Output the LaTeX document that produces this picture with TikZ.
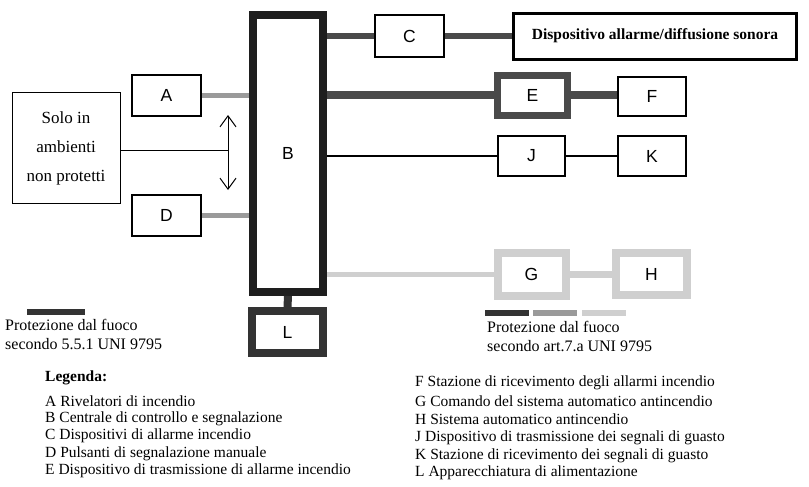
\documentclass[tikz,border=0pt]{standalone}
\usepackage{fontspec}
\setmainfont{Liberation Serif}
\newfontfamily\boxfont{Liberation Sans}
\usetikzlibrary{arrows.meta}
\definecolor{cB}{HTML}{1E1E1E}
\definecolor{cDark}{HTML}{4A4A4A}
\definecolor{cL}{HTML}{333333}
\definecolor{cMid}{HTML}{9A9A9A}
\definecolor{cLight}{HTML}{CFCFCF}
\tikzset{
  lbox/.style={draw=black, line width=2pt, fill=white, inner sep=0pt, font=\boxfont\fontsize{17.5}{20}\selectfont},
  fatbox/.style={draw=#1, line width=8pt, fill=white, inner sep=0pt, font=\boxfont\fontsize{17.5}{20}\selectfont},
  legtext/.style={anchor=west, inner sep=0pt, font=\fontsize{15.5}{17}\selectfont},
  prottext/.style={anchor=north west, inner sep=0pt, align=left, font=\fontsize{16}{19}\selectfont},
  conn/.style={line width=#1},
}
\begin{document}
\begin{tikzpicture}[x=1pt,y=-1pt]
\useasboundingbox (0,0) rectangle (809,487);
% boxes
\node[fatbox=cB, minimum width=70pt, minimum height=277pt] (B) at (288,153.5) {B};
\node[draw=black, line width=1pt, fill=white, minimum width=108pt, minimum height=110pt, inner sep=0pt, align=center, font=\fontsize{17}{20}\selectfont] (S) at (66,148) {Solo in\\[9pt]ambienti\\[9pt]non protetti};
\node[lbox, minimum width=69pt, minimum height=41pt] (A) at (166.5,95.5) {A};
\node[lbox, minimum width=69pt, minimum height=41pt] (D) at (166.5,215) {D};
\node[lbox, minimum width=69pt, minimum height=42pt] (C) at (409.5,36) {C};
\node[draw=black, line width=3pt, fill=white, minimum width=283pt, minimum height=46pt, inner sep=0pt, font=\bfseries\fontsize{15.5}{18}\selectfont] (P) at (655,36.5) {\raisebox{4pt}{Dispositivo allarme/diffusione sonora}};
\node[fatbox=cDark, line width=7pt, minimum width=70pt, minimum height=40pt] (E) at (532.5,95.5) {E};
\node[lbox, minimum width=68pt, minimum height=39pt] (F) at (652,96.5) {F};
\node[lbox, minimum width=67pt, minimum height=40pt] (J) at (531.5,156) {J};
\node[lbox, minimum width=68pt, minimum height=40pt] (K) at (652,156) {K};
\node[fatbox=cLight, minimum width=68pt, minimum height=43pt] (G) at (531.5,274.5) {G};
\node[fatbox=cLight, minimum width=71pt, minimum height=42pt] (H) at (651.5,274) {H};
\node[fatbox=cL, minimum width=71pt, minimum height=42pt] (L) at (287.5,332) {L};
% connectors
\draw[conn=5pt, cMid] (A.east) -- (A.east -| B.west);
\draw[conn=5pt, cMid] (D.east) -- (D.east -| B.west);
\draw[conn=6pt, cDark] (C.west -| B.east) -- (C.west);
\draw[conn=6pt, cDark] (C.east) -- (C.east -| P.west);
\draw[conn=8pt, cDark] (E.west -| B.east) -- (E.west);
\draw[conn=8pt, cDark] (E.east) -- (E.east -| F.west);
\draw[conn=1.3pt, black] (J.west -| B.east) -- (J.west);
\draw[conn=1.3pt, black] (J.east) -- (J.east -| K.west);
\draw[conn=5pt, cLight] (G.west -| B.east) -- (G.west);
\draw[conn=7pt, cLight] (G.east) -- (G.east -| H.west);
\draw[conn=8pt, cL] (B.south) -- (L.north);
% arrow
\coordinate (ac) at (228,150);
\coordinate (at) at (228,115);
\coordinate (ab) at (228,190);
\draw[line width=1pt] (S.east |- ac) -- (ac);
\draw[line width=1pt, {Straight Barb[length=11pt,width=16pt]}-{Straight Barb[length=11pt,width=16pt]}] (at) -- (ab);
% legend bars
\fill[cL] (27,309) rectangle (85,315);
\fill[cL] (485,310) rectangle (529,316);
\fill[cMid] (533,310) rectangle (577,316);
\fill[cLight] (582,310) rectangle (626,316);
% protection texts
\node[prottext] (p1) at (5,319) {Protezione dal fuoco\\secondo 5.5.1 UNI 9795};
\node[prottext] (p2) at (487,321) {Protezione dal fuoco\\secondo art.7.a UNI 9795};
% legend
\node[legtext, font=\bfseries\fontsize{15.5}{17}\selectfont] (lg) at (45,378) {Legenda:};
\node[legtext] (la) at (45,401) {A Rivelatori di incendio};
\node[legtext] (lb) at (45,418.5) {B Centrale di controllo e segnalazione};
\node[legtext] (lc) at (45,436) {C Dispositivi di allarme incendio};
\node[legtext] (ld) at (45,453.5) {D Pulsanti di segnalazione manuale};
\node[legtext] (le) at (45,471) {E Dispositivo di trasmissione di allarme incendio};
\node[legtext] (lf) at (415,383) {F Stazione di ricevimento degli allarmi incendio};
\node[legtext] (lgg) at (415,401) {G Comando del sistema automatico antincendio};
\node[legtext] (lh) at (415,419.5) {H Sistema automatico antincendio};
\node[legtext] (lj) at (415,437.5) {J Dispositivo di trasmissione dei segnali di guasto};
\node[legtext] (lk) at (415,455.5) {K Stazione di ricevimento dei segnali di guasto};
\node[legtext] (ll) at (415,473) {L Apparecchiatura di alimentazione};
\end{tikzpicture}
\end{document}
